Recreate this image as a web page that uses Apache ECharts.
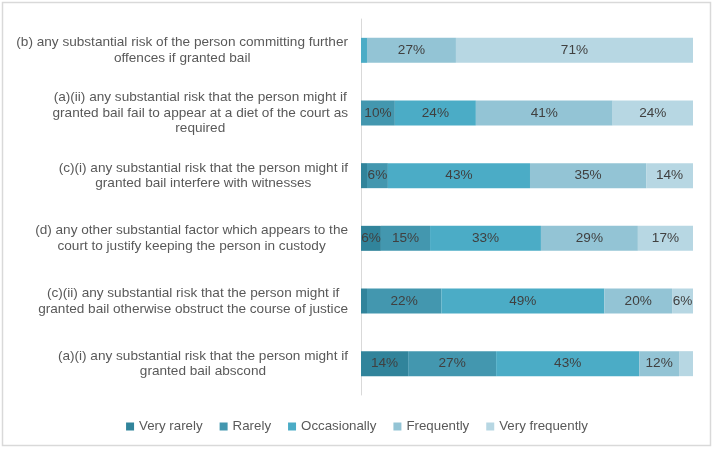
<!DOCTYPE html>
<html>
<head>
<meta charset="utf-8">
<script src="https://cdn.jsdelivr.net/npm/echarts@6/dist/echarts.min.js"></script>
<style>
html,body{margin:0;padding:0;background:#fff;}
#c{width:714px;height:449px;}
</style>
</head>
<body>
<div id="c"></div>
<script>
var categories = [
  "(b) any substantial risk of the person committing further\noffences if granted bail",
  "(a)(ii) any substantial risk that the person might if\ngranted bail fail to appear at a diet of the court as\nrequired",
  "(c)(i) any substantial risk that the person might if\ngranted bail interfere with witnesses",
  "(d) any other substantial factor which appears to the\ncourt to justify keeping the person in custody",
  "(c)(ii) any substantial risk that the person might if\ngranted bail otherwise obstruct the course of justice",
  "(a)(i) any substantial risk that the person might if\ngranted bail abscond"
];
var seriesNames = ["Very rarely", "Rarely", "Occasionally", "Frequently", "Very frequently"];
var veryRarely     = [0,    0,    1.8,  6,    1.8,  14.2];
var rarely         = [0,    10.2, 6.3,  14.8, 22.4, 26.5];
var occasionally   = [1.8,  24.4, 42.8, 33.4, 49.1, 43.1];
var frequently     = [26.8, 41.2, 35,   29.2, 20.4, 12];
var veryFrequently = [71.4, 24.2, 14.1, 16.6, 6.3,  4.2];

var colors = ["#31849B", "#4397AF", "#4BACC6", "#93C4D5", "#B7D7E3"];
var allData = [veryRarely, rarely, occasionally, frequently, veryFrequently];
var FONT = "'Liberation Sans', Arial, sans-serif";
var FS = 13.6;

var chart = echarts.init(document.getElementById('c'));
var series = seriesNames.map(function (name, i) {
  return {
    name: name,
    type: 'bar',
    stack: 'total',
    barWidth: 25,
    itemStyle: { color: colors[i] },
    emphasis: { disabled: true },
    label: {
      show: true,
      position: 'inside',
      color: '#404040',
      fontSize: FS,
      fontFamily: FONT,
      formatter: function (p) { return p.value >= 5 ? Math.round(p.value) + '%' : ''; }
    },
    data: allData[i]
  };
});

chart.setOption({
  animation: false,
  textStyle: { fontFamily: FONT },
  graphic: [{
    type: 'rect',
    shape: { x: 2.5, y: 2.5, width: 708, height: 443 },
    style: { fill: 'none', stroke: '#D9D9D9', lineWidth: 1.5 },
    silent: true
  }],
  grid: { left: 361, right: 21, top: 19, bottom: 54 },
  legend: {
    data: seriesNames,
    top: 415,
    left: 'center',
    icon: 'rect',
    itemWidth: 8,
    itemHeight: 8,
    itemGap: 17,
    textStyle: { color: '#595959', fontSize: 13.3, fontFamily: FONT }
  },
  xAxis: {
    type: 'value',
    min: 0,
    max: 100,
    show: false
  },
  yAxis: {
    type: 'category',
    inverse: true,
    data: categories,
    axisLine: { show: true, lineStyle: { color: '#D9D9D9', width: 1 } },
    axisTick: { show: false },
    axisLabel: {
      margin: 13,
      color: '#595959',
      fontSize: FS,
      fontFamily: FONT,
      lineHeight: 15.5,
      formatter: function (v) {
        return v.split('\n').map(function (l) { return '{c|' + l + '}'; }).join('\n');
      },
      rich: {
        c: { align: 'center', color: '#595959', fontSize: FS, fontFamily: FONT, lineHeight: 15.5 }
      }
    }
  },
  series: series
});
</script>
</body>
</html>
